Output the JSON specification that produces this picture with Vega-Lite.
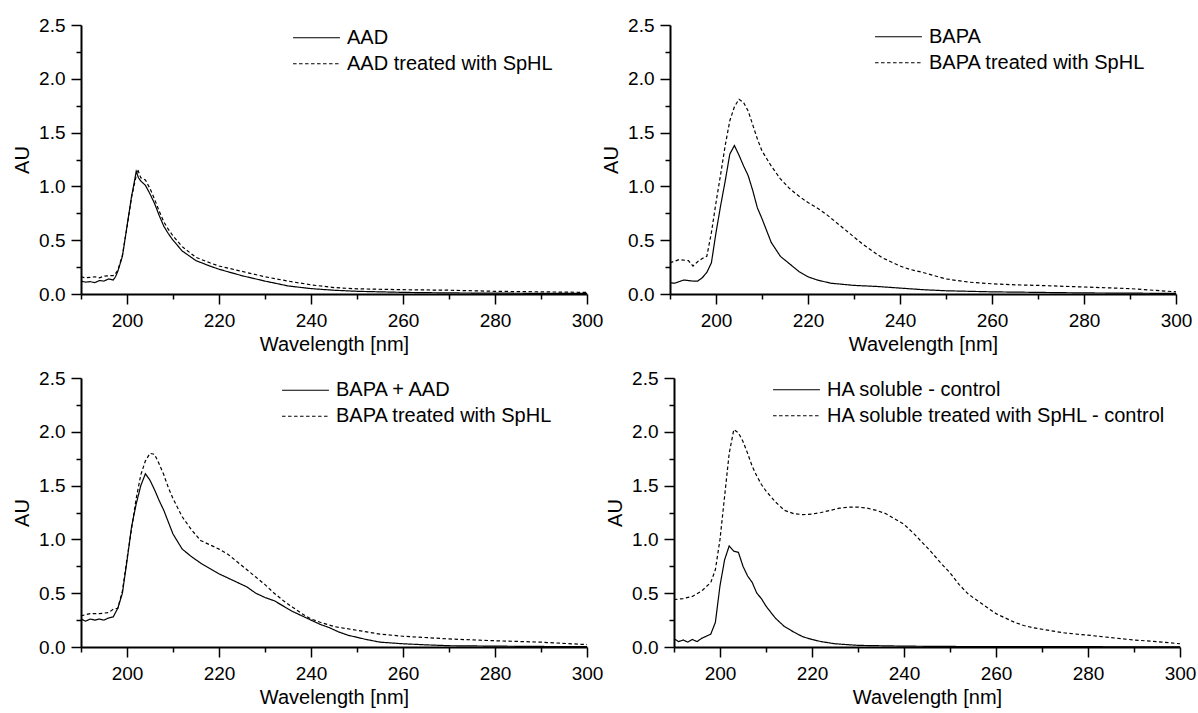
{
"$schema": "https://vega.github.io/schema/vega-lite/v6.json",
"padding": {"left": 12, "top": 16, "right": 5, "bottom": 5},
"config": {
 "view": {"stroke": null},
 "font": "Liberation Sans",
 "axis": {"domainColor": "black", "domainWidth": 2, "tickColor": "black", "tickWidth": 1.5, "labelColor": "black", "labelFont": "Liberation Sans", "labelFontSize": 19, "titleFont": "Liberation Sans", "titleFontSize": 20, "titleFontWeight": "normal", "titleColor": "black", "grid": false, "labelOverlap": false, "labelFlush": false},
 "legend": {"title": null, "orient": "none", "symbolType": "stroke", "symbolSize": 2200, "symbolStrokeWidth": 1.2, "symbolStrokeColor": "black", "labelFont": "Liberation Sans", "labelFontSize": 20, "labelColor": "black", "labelOffset": 6, "clipHeight": 25.5, "rowPadding": 0, "padding": 0, "labelLimit": 700, "direction": "vertical"}
},
"datasets": {
 "p1": [
  {"wl":190,"au":0.12,"series":"AAD"},{"wl":191,"au":0.11,"series":"AAD"},{"wl":192,"au":0.115,"series":"AAD"},{"wl":193,"au":0.105,"series":"AAD"},{"wl":194,"au":0.125,"series":"AAD"},{"wl":195,"au":0.12,"series":"AAD"},{"wl":196,"au":0.14,"series":"AAD"},{"wl":197,"au":0.13,"series":"AAD"},{"wl":197.5,"au":0.16,"series":"AAD"},{"wl":198,"au":0.21,"series":"AAD"},{"wl":199,"au":0.35,"series":"AAD"},{"wl":200,"au":0.63,"series":"AAD"},{"wl":201,"au":0.91,"series":"AAD"},{"wl":201.5,"au":1.02,"series":"AAD"},{"wl":202,"au":1.14,"series":"AAD"},{"wl":202.5,"au":1.08,"series":"AAD"},{"wl":203,"au":1.05,"series":"AAD"},{"wl":204,"au":1.01,"series":"AAD"},{"wl":205,"au":0.93,"series":"AAD"},{"wl":206,"au":0.84,"series":"AAD"},{"wl":207,"au":0.73,"series":"AAD"},{"wl":208,"au":0.63,"series":"AAD"},{"wl":209,"au":0.56,"series":"AAD"},{"wl":210,"au":0.5,"series":"AAD"},{"wl":212,"au":0.4,"series":"AAD"},{"wl":215,"au":0.31,"series":"AAD"},{"wl":218,"au":0.26,"series":"AAD"},{"wl":220,"au":0.23,"series":"AAD"},{"wl":225,"au":0.17,"series":"AAD"},{"wl":230,"au":0.12,"series":"AAD"},{"wl":235,"au":0.075,"series":"AAD"},{"wl":240,"au":0.05,"series":"AAD"},{"wl":245,"au":0.035,"series":"AAD"},{"wl":250,"au":0.025,"series":"AAD"},{"wl":260,"au":0.015,"series":"AAD"},{"wl":270,"au":0.01,"series":"AAD"},{"wl":280,"au":0.008,"series":"AAD"},{"wl":290,"au":0.006,"series":"AAD"},{"wl":300,"au":0.005,"series":"AAD"},
  {"wl":190,"au":0.16,"series":"AAD treated with SpHL"},{"wl":191,"au":0.15,"series":"AAD treated with SpHL"},{"wl":192,"au":0.155,"series":"AAD treated with SpHL"},{"wl":193,"au":0.16,"series":"AAD treated with SpHL"},{"wl":194,"au":0.15,"series":"AAD treated with SpHL"},{"wl":195,"au":0.165,"series":"AAD treated with SpHL"},{"wl":196,"au":0.17,"series":"AAD treated with SpHL"},{"wl":197,"au":0.17,"series":"AAD treated with SpHL"},{"wl":197.5,"au":0.19,"series":"AAD treated with SpHL"},{"wl":198,"au":0.22,"series":"AAD treated with SpHL"},{"wl":199,"au":0.36,"series":"AAD treated with SpHL"},{"wl":200,"au":0.62,"series":"AAD treated with SpHL"},{"wl":201,"au":0.9,"series":"AAD treated with SpHL"},{"wl":202,"au":1.1,"series":"AAD treated with SpHL"},{"wl":202.3,"au":1.16,"series":"AAD treated with SpHL"},{"wl":203,"au":1.08,"series":"AAD treated with SpHL"},{"wl":204,"au":1.06,"series":"AAD treated with SpHL"},{"wl":205,"au":0.98,"series":"AAD treated with SpHL"},{"wl":206,"au":0.88,"series":"AAD treated with SpHL"},{"wl":207,"au":0.77,"series":"AAD treated with SpHL"},{"wl":208,"au":0.67,"series":"AAD treated with SpHL"},{"wl":209,"au":0.6,"series":"AAD treated with SpHL"},{"wl":210,"au":0.54,"series":"AAD treated with SpHL"},{"wl":212,"au":0.44,"series":"AAD treated with SpHL"},{"wl":215,"au":0.34,"series":"AAD treated with SpHL"},{"wl":218,"au":0.29,"series":"AAD treated with SpHL"},{"wl":220,"au":0.26,"series":"AAD treated with SpHL"},{"wl":225,"au":0.21,"series":"AAD treated with SpHL"},{"wl":230,"au":0.16,"series":"AAD treated with SpHL"},{"wl":235,"au":0.12,"series":"AAD treated with SpHL"},{"wl":240,"au":0.085,"series":"AAD treated with SpHL"},{"wl":245,"au":0.06,"series":"AAD treated with SpHL"},{"wl":250,"au":0.048,"series":"AAD treated with SpHL"},{"wl":260,"au":0.04,"series":"AAD treated with SpHL"},{"wl":270,"au":0.035,"series":"AAD treated with SpHL"},{"wl":280,"au":0.025,"series":"AAD treated with SpHL"},{"wl":290,"au":0.02,"series":"AAD treated with SpHL"},{"wl":300,"au":0.015,"series":"AAD treated with SpHL"}
 ],
 "p2": [
  {"wl":190,"au":0.105,"series":"BAPA"},{"wl":191,"au":0.1,"series":"BAPA"},{"wl":193,"au":0.13,"series":"BAPA"},{"wl":195,"au":0.12,"series":"BAPA"},{"wl":196,"au":0.12,"series":"BAPA"},{"wl":197,"au":0.15,"series":"BAPA"},{"wl":198,"au":0.2,"series":"BAPA"},{"wl":199,"au":0.29,"series":"BAPA"},{"wl":200,"au":0.57,"series":"BAPA"},{"wl":201,"au":0.82,"series":"BAPA"},{"wl":202,"au":1.05,"series":"BAPA"},{"wl":203,"au":1.3,"series":"BAPA"},{"wl":204,"au":1.38,"series":"BAPA"},{"wl":205,"au":1.29,"series":"BAPA"},{"wl":206,"au":1.19,"series":"BAPA"},{"wl":207,"au":1.1,"series":"BAPA"},{"wl":208,"au":0.96,"series":"BAPA"},{"wl":209,"au":0.8,"series":"BAPA"},{"wl":210,"au":0.7,"series":"BAPA"},{"wl":212,"au":0.48,"series":"BAPA"},{"wl":214,"au":0.35,"series":"BAPA"},{"wl":216,"au":0.28,"series":"BAPA"},{"wl":218,"au":0.21,"series":"BAPA"},{"wl":220,"au":0.16,"series":"BAPA"},{"wl":222,"au":0.13,"series":"BAPA"},{"wl":225,"au":0.1,"series":"BAPA"},{"wl":230,"au":0.08,"series":"BAPA"},{"wl":235,"au":0.07,"series":"BAPA"},{"wl":240,"au":0.055,"series":"BAPA"},{"wl":245,"au":0.04,"series":"BAPA"},{"wl":250,"au":0.03,"series":"BAPA"},{"wl":260,"au":0.02,"series":"BAPA"},{"wl":270,"au":0.015,"series":"BAPA"},{"wl":280,"au":0.01,"series":"BAPA"},{"wl":290,"au":0.008,"series":"BAPA"},{"wl":300,"au":0.005,"series":"BAPA"},
  {"wl":190,"au":0.29,"series":"BAPA treated with SpHL"},{"wl":192,"au":0.32,"series":"BAPA treated with SpHL"},{"wl":194,"au":0.31,"series":"BAPA treated with SpHL"},{"wl":195,"au":0.26,"series":"BAPA treated with SpHL"},{"wl":196,"au":0.3,"series":"BAPA treated with SpHL"},{"wl":197,"au":0.33,"series":"BAPA treated with SpHL"},{"wl":198,"au":0.35,"series":"BAPA treated with SpHL"},{"wl":199,"au":0.57,"series":"BAPA treated with SpHL"},{"wl":200,"au":0.85,"series":"BAPA treated with SpHL"},{"wl":201,"au":1.11,"series":"BAPA treated with SpHL"},{"wl":202,"au":1.38,"series":"BAPA treated with SpHL"},{"wl":203,"au":1.61,"series":"BAPA treated with SpHL"},{"wl":204,"au":1.74,"series":"BAPA treated with SpHL"},{"wl":205,"au":1.81,"series":"BAPA treated with SpHL"},{"wl":206,"au":1.78,"series":"BAPA treated with SpHL"},{"wl":207,"au":1.7,"series":"BAPA treated with SpHL"},{"wl":208,"au":1.57,"series":"BAPA treated with SpHL"},{"wl":209,"au":1.44,"series":"BAPA treated with SpHL"},{"wl":210,"au":1.33,"series":"BAPA treated with SpHL"},{"wl":212,"au":1.19,"series":"BAPA treated with SpHL"},{"wl":214,"au":1.07,"series":"BAPA treated with SpHL"},{"wl":216,"au":0.98,"series":"BAPA treated with SpHL"},{"wl":218,"au":0.91,"series":"BAPA treated with SpHL"},{"wl":220,"au":0.85,"series":"BAPA treated with SpHL"},{"wl":222,"au":0.8,"series":"BAPA treated with SpHL"},{"wl":224,"au":0.74,"series":"BAPA treated with SpHL"},{"wl":226,"au":0.67,"series":"BAPA treated with SpHL"},{"wl":228,"au":0.6,"series":"BAPA treated with SpHL"},{"wl":230,"au":0.53,"series":"BAPA treated with SpHL"},{"wl":232,"au":0.46,"series":"BAPA treated with SpHL"},{"wl":234,"au":0.4,"series":"BAPA treated with SpHL"},{"wl":236,"au":0.34,"series":"BAPA treated with SpHL"},{"wl":238,"au":0.3,"series":"BAPA treated with SpHL"},{"wl":240,"au":0.26,"series":"BAPA treated with SpHL"},{"wl":242,"au":0.23,"series":"BAPA treated with SpHL"},{"wl":245,"au":0.2,"series":"BAPA treated with SpHL"},{"wl":250,"au":0.14,"series":"BAPA treated with SpHL"},{"wl":255,"au":0.11,"series":"BAPA treated with SpHL"},{"wl":260,"au":0.095,"series":"BAPA treated with SpHL"},{"wl":265,"au":0.085,"series":"BAPA treated with SpHL"},{"wl":270,"au":0.08,"series":"BAPA treated with SpHL"},{"wl":280,"au":0.065,"series":"BAPA treated with SpHL"},{"wl":290,"au":0.05,"series":"BAPA treated with SpHL"},{"wl":300,"au":0.02,"series":"BAPA treated with SpHL"}
 ],
 "p3": [
  {"wl":190,"au":0.26,"series":"BAPA + AAD"},{"wl":191,"au":0.24,"series":"BAPA + AAD"},{"wl":192,"au":0.26,"series":"BAPA + AAD"},{"wl":193,"au":0.25,"series":"BAPA + AAD"},{"wl":194,"au":0.26,"series":"BAPA + AAD"},{"wl":195,"au":0.25,"series":"BAPA + AAD"},{"wl":196,"au":0.27,"series":"BAPA + AAD"},{"wl":197,"au":0.28,"series":"BAPA + AAD"},{"wl":198,"au":0.36,"series":"BAPA + AAD"},{"wl":199,"au":0.5,"series":"BAPA + AAD"},{"wl":200,"au":0.8,"series":"BAPA + AAD"},{"wl":201,"au":1.12,"series":"BAPA + AAD"},{"wl":202,"au":1.33,"series":"BAPA + AAD"},{"wl":203,"au":1.5,"series":"BAPA + AAD"},{"wl":204,"au":1.61,"series":"BAPA + AAD"},{"wl":205,"au":1.55,"series":"BAPA + AAD"},{"wl":206,"au":1.46,"series":"BAPA + AAD"},{"wl":207,"au":1.36,"series":"BAPA + AAD"},{"wl":208,"au":1.27,"series":"BAPA + AAD"},{"wl":209,"au":1.16,"series":"BAPA + AAD"},{"wl":210,"au":1.05,"series":"BAPA + AAD"},{"wl":212,"au":0.91,"series":"BAPA + AAD"},{"wl":214,"au":0.84,"series":"BAPA + AAD"},{"wl":216,"au":0.78,"series":"BAPA + AAD"},{"wl":218,"au":0.73,"series":"BAPA + AAD"},{"wl":220,"au":0.68,"series":"BAPA + AAD"},{"wl":222,"au":0.64,"series":"BAPA + AAD"},{"wl":224,"au":0.6,"series":"BAPA + AAD"},{"wl":226,"au":0.56,"series":"BAPA + AAD"},{"wl":228,"au":0.5,"series":"BAPA + AAD"},{"wl":230,"au":0.46,"series":"BAPA + AAD"},{"wl":232,"au":0.43,"series":"BAPA + AAD"},{"wl":234,"au":0.38,"series":"BAPA + AAD"},{"wl":236,"au":0.33,"series":"BAPA + AAD"},{"wl":238,"au":0.29,"series":"BAPA + AAD"},{"wl":240,"au":0.25,"series":"BAPA + AAD"},{"wl":242,"au":0.21,"series":"BAPA + AAD"},{"wl":244,"au":0.18,"series":"BAPA + AAD"},{"wl":246,"au":0.14,"series":"BAPA + AAD"},{"wl":248,"au":0.11,"series":"BAPA + AAD"},{"wl":250,"au":0.09,"series":"BAPA + AAD"},{"wl":252,"au":0.07,"series":"BAPA + AAD"},{"wl":255,"au":0.045,"series":"BAPA + AAD"},{"wl":260,"au":0.03,"series":"BAPA + AAD"},{"wl":265,"au":0.02,"series":"BAPA + AAD"},{"wl":270,"au":0.012,"series":"BAPA + AAD"},{"wl":280,"au":0.008,"series":"BAPA + AAD"},{"wl":290,"au":0.005,"series":"BAPA + AAD"},{"wl":300,"au":0.003,"series":"BAPA + AAD"},
  {"wl":190,"au":0.29,"series":"BAPA treated with SpHL"},{"wl":192,"au":0.31,"series":"BAPA treated with SpHL"},{"wl":194,"au":0.31,"series":"BAPA treated with SpHL"},{"wl":196,"au":0.32,"series":"BAPA treated with SpHL"},{"wl":197,"au":0.35,"series":"BAPA treated with SpHL"},{"wl":198,"au":0.36,"series":"BAPA treated with SpHL"},{"wl":199,"au":0.52,"series":"BAPA treated with SpHL"},{"wl":200,"au":0.82,"series":"BAPA treated with SpHL"},{"wl":201,"au":1.1,"series":"BAPA treated with SpHL"},{"wl":202,"au":1.38,"series":"BAPA treated with SpHL"},{"wl":203,"au":1.6,"series":"BAPA treated with SpHL"},{"wl":204,"au":1.73,"series":"BAPA treated with SpHL"},{"wl":205,"au":1.8,"series":"BAPA treated with SpHL"},{"wl":206,"au":1.79,"series":"BAPA treated with SpHL"},{"wl":207,"au":1.7,"series":"BAPA treated with SpHL"},{"wl":208,"au":1.6,"series":"BAPA treated with SpHL"},{"wl":209,"au":1.48,"series":"BAPA treated with SpHL"},{"wl":210,"au":1.38,"series":"BAPA treated with SpHL"},{"wl":212,"au":1.21,"series":"BAPA treated with SpHL"},{"wl":214,"au":1.09,"series":"BAPA treated with SpHL"},{"wl":216,"au":0.99,"series":"BAPA treated with SpHL"},{"wl":218,"au":0.95,"series":"BAPA treated with SpHL"},{"wl":220,"au":0.91,"series":"BAPA treated with SpHL"},{"wl":222,"au":0.86,"series":"BAPA treated with SpHL"},{"wl":224,"au":0.79,"series":"BAPA treated with SpHL"},{"wl":226,"au":0.72,"series":"BAPA treated with SpHL"},{"wl":228,"au":0.65,"series":"BAPA treated with SpHL"},{"wl":230,"au":0.58,"series":"BAPA treated with SpHL"},{"wl":232,"au":0.5,"series":"BAPA treated with SpHL"},{"wl":234,"au":0.43,"series":"BAPA treated with SpHL"},{"wl":236,"au":0.37,"series":"BAPA treated with SpHL"},{"wl":238,"au":0.31,"series":"BAPA treated with SpHL"},{"wl":240,"au":0.26,"series":"BAPA treated with SpHL"},{"wl":242,"au":0.23,"series":"BAPA treated with SpHL"},{"wl":245,"au":0.19,"series":"BAPA treated with SpHL"},{"wl":250,"au":0.155,"series":"BAPA treated with SpHL"},{"wl":255,"au":0.12,"series":"BAPA treated with SpHL"},{"wl":260,"au":0.1,"series":"BAPA treated with SpHL"},{"wl":270,"au":0.075,"series":"BAPA treated with SpHL"},{"wl":280,"au":0.058,"series":"BAPA treated with SpHL"},{"wl":290,"au":0.045,"series":"BAPA treated with SpHL"},{"wl":300,"au":0.022,"series":"BAPA treated with SpHL"}
 ],
 "p4": [
  {"wl":190,"au":0.077,"series":"HA soluble - control"},{"wl":191,"au":0.05,"series":"HA soluble - control"},{"wl":192,"au":0.065,"series":"HA soluble - control"},{"wl":193,"au":0.045,"series":"HA soluble - control"},{"wl":194,"au":0.07,"series":"HA soluble - control"},{"wl":195,"au":0.05,"series":"HA soluble - control"},{"wl":196,"au":0.08,"series":"HA soluble - control"},{"wl":197,"au":0.1,"series":"HA soluble - control"},{"wl":198,"au":0.12,"series":"HA soluble - control"},{"wl":199,"au":0.23,"series":"HA soluble - control"},{"wl":200,"au":0.57,"series":"HA soluble - control"},{"wl":201,"au":0.81,"series":"HA soluble - control"},{"wl":202,"au":0.94,"series":"HA soluble - control"},{"wl":203,"au":0.89,"series":"HA soluble - control"},{"wl":204,"au":0.88,"series":"HA soluble - control"},{"wl":205,"au":0.75,"series":"HA soluble - control"},{"wl":206,"au":0.66,"series":"HA soluble - control"},{"wl":207,"au":0.6,"series":"HA soluble - control"},{"wl":208,"au":0.5,"series":"HA soluble - control"},{"wl":209,"au":0.45,"series":"HA soluble - control"},{"wl":210,"au":0.38,"series":"HA soluble - control"},{"wl":212,"au":0.27,"series":"HA soluble - control"},{"wl":214,"au":0.19,"series":"HA soluble - control"},{"wl":216,"au":0.14,"series":"HA soluble - control"},{"wl":218,"au":0.095,"series":"HA soluble - control"},{"wl":220,"au":0.07,"series":"HA soluble - control"},{"wl":222,"au":0.05,"series":"HA soluble - control"},{"wl":225,"au":0.03,"series":"HA soluble - control"},{"wl":230,"au":0.015,"series":"HA soluble - control"},{"wl":240,"au":0.008,"series":"HA soluble - control"},{"wl":250,"au":0.005,"series":"HA soluble - control"},{"wl":270,"au":0.003,"series":"HA soluble - control"},{"wl":300,"au":0.002,"series":"HA soluble - control"},
  {"wl":190,"au":0.44,"series":"HA soluble treated with SpHL - control"},{"wl":192,"au":0.45,"series":"HA soluble treated with SpHL - control"},{"wl":194,"au":0.47,"series":"HA soluble treated with SpHL - control"},{"wl":196,"au":0.52,"series":"HA soluble treated with SpHL - control"},{"wl":198,"au":0.6,"series":"HA soluble treated with SpHL - control"},{"wl":199,"au":0.72,"series":"HA soluble treated with SpHL - control"},{"wl":200,"au":1.0,"series":"HA soluble treated with SpHL - control"},{"wl":201,"au":1.4,"series":"HA soluble treated with SpHL - control"},{"wl":202,"au":1.8,"series":"HA soluble treated with SpHL - control"},{"wl":203,"au":2.02,"series":"HA soluble treated with SpHL - control"},{"wl":204,"au":1.99,"series":"HA soluble treated with SpHL - control"},{"wl":205,"au":1.91,"series":"HA soluble treated with SpHL - control"},{"wl":206,"au":1.8,"series":"HA soluble treated with SpHL - control"},{"wl":207,"au":1.68,"series":"HA soluble treated with SpHL - control"},{"wl":208,"au":1.59,"series":"HA soluble treated with SpHL - control"},{"wl":209,"au":1.51,"series":"HA soluble treated with SpHL - control"},{"wl":210,"au":1.45,"series":"HA soluble treated with SpHL - control"},{"wl":212,"au":1.35,"series":"HA soluble treated with SpHL - control"},{"wl":214,"au":1.27,"series":"HA soluble treated with SpHL - control"},{"wl":216,"au":1.24,"series":"HA soluble treated with SpHL - control"},{"wl":218,"au":1.23,"series":"HA soluble treated with SpHL - control"},{"wl":220,"au":1.235,"series":"HA soluble treated with SpHL - control"},{"wl":222,"au":1.25,"series":"HA soluble treated with SpHL - control"},{"wl":224,"au":1.27,"series":"HA soluble treated with SpHL - control"},{"wl":226,"au":1.29,"series":"HA soluble treated with SpHL - control"},{"wl":228,"au":1.3,"series":"HA soluble treated with SpHL - control"},{"wl":230,"au":1.3,"series":"HA soluble treated with SpHL - control"},{"wl":232,"au":1.29,"series":"HA soluble treated with SpHL - control"},{"wl":234,"au":1.27,"series":"HA soluble treated with SpHL - control"},{"wl":236,"au":1.24,"series":"HA soluble treated with SpHL - control"},{"wl":238,"au":1.19,"series":"HA soluble treated with SpHL - control"},{"wl":240,"au":1.14,"series":"HA soluble treated with SpHL - control"},{"wl":242,"au":1.06,"series":"HA soluble treated with SpHL - control"},{"wl":244,"au":0.97,"series":"HA soluble treated with SpHL - control"},{"wl":246,"au":0.88,"series":"HA soluble treated with SpHL - control"},{"wl":248,"au":0.78,"series":"HA soluble treated with SpHL - control"},{"wl":250,"au":0.69,"series":"HA soluble treated with SpHL - control"},{"wl":252,"au":0.58,"series":"HA soluble treated with SpHL - control"},{"wl":254,"au":0.49,"series":"HA soluble treated with SpHL - control"},{"wl":256,"au":0.43,"series":"HA soluble treated with SpHL - control"},{"wl":258,"au":0.37,"series":"HA soluble treated with SpHL - control"},{"wl":260,"au":0.31,"series":"HA soluble treated with SpHL - control"},{"wl":262,"au":0.27,"series":"HA soluble treated with SpHL - control"},{"wl":264,"au":0.23,"series":"HA soluble treated with SpHL - control"},{"wl":266,"au":0.2,"series":"HA soluble treated with SpHL - control"},{"wl":268,"au":0.18,"series":"HA soluble treated with SpHL - control"},{"wl":270,"au":0.165,"series":"HA soluble treated with SpHL - control"},{"wl":275,"au":0.13,"series":"HA soluble treated with SpHL - control"},{"wl":280,"au":0.11,"series":"HA soluble treated with SpHL - control"},{"wl":285,"au":0.087,"series":"HA soluble treated with SpHL - control"},{"wl":290,"au":0.065,"series":"HA soluble treated with SpHL - control"},{"wl":295,"au":0.05,"series":"HA soluble treated with SpHL - control"},{"wl":300,"au":0.03,"series":"HA soluble treated with SpHL - control"}
 ]
},
"vconcat": [
 {"hconcat": [
  {"vconcat": [
   {"width": 506, "height": 269, "data": {"name": "p1"},
    "mark": {"type": "line", "color": "black", "strokeWidth": 1.2},
    "encoding": {
     "x": {"field": "wl", "type": "quantitative", "scale": {"domain": [190, 300], "nice": false, "zero": false}, "axis": {"title": "Wavelength [nm]", "values": [190,200,210,220,230,240,250,260,270,280,290,300], "labelExpr": "datum.value % 20 == 0 ? datum.label : ''", "tickSize": {"condition": {"test": "datum.value % 20 != 0", "value": 5}, "value": 10}, "labelPadding": 7, "titlePadding": 4}},
     "y": {"field": "au", "type": "quantitative", "scale": {"domain": [0, 2.5], "nice": false}, "axis": {"title": "AU", "values": [0,0.25,0.5,0.75,1,1.25,1.5,1.75,2,2.25,2.5], "labelExpr": "round(datum.value*4) % 2 == 0 ? format(datum.value, '.1f') : ''", "tickSize": {"condition": {"test": "round(datum.value*4) % 2 == 1", "value": 5}, "value": 10}, "labelPadding": 6, "titlePadding": 6}},
     "strokeDash": {"field": "series", "type": "nominal", "scale": {"domain": ["AAD", "AAD treated with SpHL"], "range": [[1, 0], [3.5, 2.5]]}, "legend": {"legendX": 211, "legendY": 0}}
    }}
   ], "resolve": {"scale": {"strokeDash": "independent"}, "legend": {"strokeDash": "independent"}}},
  {"vconcat": [
   {"width": 506, "height": 269, "data": {"name": "p2"},
    "mark": {"type": "line", "color": "black", "strokeWidth": 1.2},
    "encoding": {
     "x": {"field": "wl", "type": "quantitative", "scale": {"domain": [190, 300], "nice": false, "zero": false}, "axis": {"title": "Wavelength [nm]", "values": [190,200,210,220,230,240,250,260,270,280,290,300], "labelExpr": "datum.value % 20 == 0 ? datum.label : ''", "tickSize": {"condition": {"test": "datum.value % 20 != 0", "value": 5}, "value": 10}, "labelPadding": 7, "titlePadding": 4}},
     "y": {"field": "au", "type": "quantitative", "scale": {"domain": [0, 2.5], "nice": false}, "axis": {"title": "AU", "values": [0,0.25,0.5,0.75,1,1.25,1.5,1.75,2,2.25,2.5], "labelExpr": "round(datum.value*4) % 2 == 0 ? format(datum.value, '.1f') : ''", "tickSize": {"condition": {"test": "round(datum.value*4) % 2 == 1", "value": 5}, "value": 10}, "labelPadding": 6, "titlePadding": 6}},
     "strokeDash": {"field": "series", "type": "nominal", "scale": {"domain": ["BAPA", "BAPA treated with SpHL"], "range": [[1, 0], [3.5, 2.5]]}, "legend": {"legendX": 204, "legendY": -1}}
    }}
   ], "resolve": {"scale": {"strokeDash": "independent"}, "legend": {"strokeDash": "independent"}}}
 ], "spacing": -2, "resolve": {"scale": {"strokeDash": "independent"}, "legend": {"strokeDash": "independent"}}},
 {"hconcat": [
  {"vconcat": [
   {"width": 506, "height": 269, "data": {"name": "p3"},
    "mark": {"type": "line", "color": "black", "strokeWidth": 1.2},
    "encoding": {
     "x": {"field": "wl", "type": "quantitative", "scale": {"domain": [190, 300], "nice": false, "zero": false}, "axis": {"title": "Wavelength [nm]", "values": [190,200,210,220,230,240,250,260,270,280,290,300], "labelExpr": "datum.value % 20 == 0 ? datum.label : ''", "tickSize": {"condition": {"test": "datum.value % 20 != 0", "value": 5}, "value": 10}, "labelPadding": 7, "titlePadding": 4}},
     "y": {"field": "au", "type": "quantitative", "scale": {"domain": [0, 2.5], "nice": false}, "axis": {"title": "AU", "values": [0,0.25,0.5,0.75,1,1.25,1.5,1.75,2,2.25,2.5], "labelExpr": "round(datum.value*4) % 2 == 0 ? format(datum.value, '.1f') : ''", "tickSize": {"condition": {"test": "round(datum.value*4) % 2 == 1", "value": 5}, "value": 10}, "labelPadding": 6, "titlePadding": 6}},
     "strokeDash": {"field": "series", "type": "nominal", "scale": {"domain": ["BAPA + AAD", "BAPA treated with SpHL"], "range": [[1, 0], [3.5, 2.5]]}, "legend": {"legendX": 200, "legendY": -0.5}}
    }}
   ], "resolve": {"scale": {"strokeDash": "independent"}, "legend": {"strokeDash": "independent"}}},
  {"vconcat": [
   {"width": 506, "height": 269, "data": {"name": "p4"},
    "mark": {"type": "line", "color": "black", "strokeWidth": 1.2},
    "encoding": {
     "x": {"field": "wl", "type": "quantitative", "scale": {"domain": [190, 300], "nice": false, "zero": false}, "axis": {"title": "Wavelength [nm]", "values": [190,200,210,220,230,240,250,260,270,280,290,300], "labelExpr": "datum.value % 20 == 0 ? datum.label : ''", "tickSize": {"condition": {"test": "datum.value % 20 != 0", "value": 5}, "value": 10}, "labelPadding": 7, "titlePadding": 4}},
     "y": {"field": "au", "type": "quantitative", "scale": {"domain": [0, 2.5], "nice": false}, "axis": {"title": "AU", "values": [0,0.25,0.5,0.75,1,1.25,1.5,1.75,2,2.25,2.5], "labelExpr": "round(datum.value*4) % 2 == 0 ? format(datum.value, '.1f') : ''", "tickSize": {"condition": {"test": "round(datum.value*4) % 2 == 1", "value": 5}, "value": 10}, "labelPadding": 6, "titlePadding": 6}},
     "strokeDash": {"field": "series", "type": "nominal", "scale": {"domain": ["HA soluble - control", "HA soluble treated with SpHL - control"], "range": [[1, 0], [3.5, 2.5]]}, "legend": {"legendX": 98, "legendY": -1}}
    }}
   ], "resolve": {"scale": {"strokeDash": "independent"}, "legend": {"strokeDash": "independent"}}}
 ], "spacing": 2, "resolve": {"scale": {"strokeDash": "independent"}, "legend": {"strokeDash": "independent"}}}
],
"spacing": 15,
"resolve": {"scale": {"strokeDash": "independent"}, "legend": {"strokeDash": "independent"}}
}
